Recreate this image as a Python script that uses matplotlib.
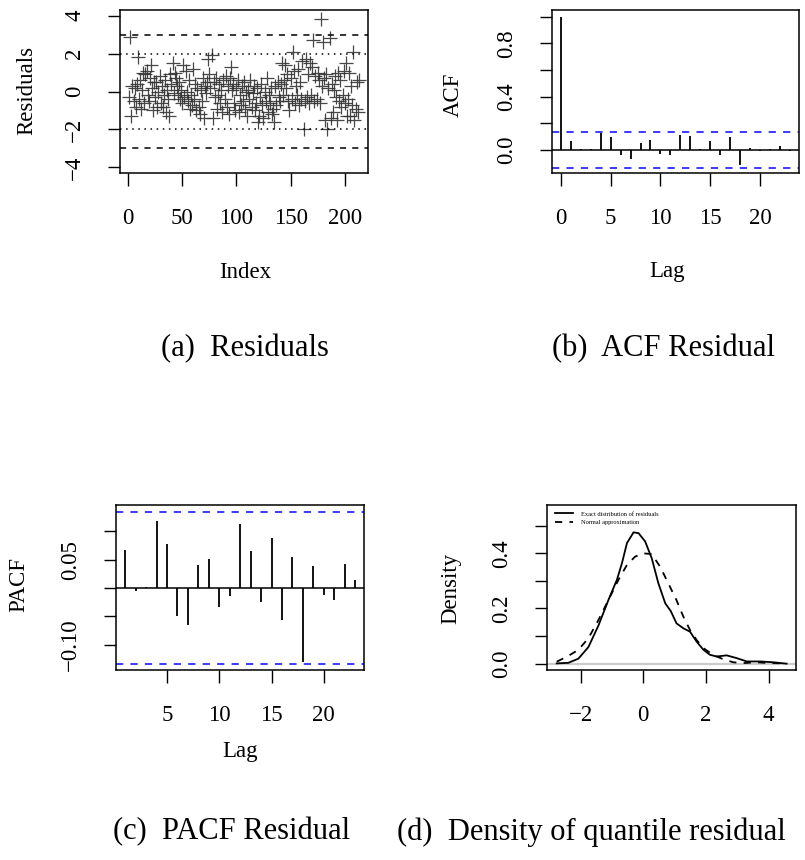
import numpy as np
import matplotlib
matplotlib.use("Agg")
import matplotlib.pyplot as plt

plt.rcParams['font.family'] = ['Liberation Serif', 'DejaVu Serif']
plt.rcParams['axes.unicode_minus'] = True

# quantile residuals, index 1..213
residuals = [
    -0.3, 2.9, -1.3, 0.3, -0.5, 0.2, -0.8, 0.4, 1.8, -0.4,
    0.6, -0.9, 0.1, 1.0, -0.6, 0.9, 1.1, -0.2, -0.5, 0.7,
    1.4, 0.2, -1.0, 0.5, -0.3, 0.5, -0.8, 0.0, 0.8, -0.6,
    0.3, -0.8, -0.2, 0.6, -1.1, 0.1, -0.4, -1.3, 0.9, 0.4,
    1.5, -0.1, 1.0, 0.7, 0.3, -0.2, 0.5, -0.4, 0.1, -0.6,
    1.4, -0.3, 1.1, 0.0, -0.5, 0.6, -0.9, -0.2, -0.7, 1.2,
    -0.4, 0.4, -1.0, 0.2, -0.8, -1.2, 0.1, -0.5, 0.7, -1.4,
    0.3, -0.1, 0.5, 1.7, 0.9, 0.2, 1.9, -1.4, 0.5, -0.3,
    0.7, -0.9, -0.2, 0.4, -0.6, 0.1, -1.1, 0.6, -0.4, 0.8,
    -0.8, 0.3, -1.2, 0.7, 1.3, 0.1, 0.4, -0.6, -1.0, 0.2,
    0.6, -1.1, -0.2, -0.7, 0.3, -0.5, 0.5, -0.9, 0.0, -1.3,
    0.1, -0.4, 0.6, -0.8, -0.1, 0.3, -1.0, -0.6, 0.2, -1.6,
    -1.3, -0.3, 0.4, -0.7, -1.4, 0.0, -0.5, 0.7, -1.1, -0.2,
    -0.6, 0.2, -1.2, -0.9, -1.6, 0.3, -0.7, 0.5, -0.3, -0.5,
    0.4, 1.5, -0.2, 0.6, 1.4, 0.2, 0.9, -0.5, -1.0, 0.7,
    -0.4, 2.1, 1.1, -0.6, 0.3, -0.2, 1.2, -0.7, 0.5, -0.4,
    1.6, -2.0, -0.5, 1.7, -0.3, 0.9, -0.6, 1.5, -0.2, 1.3,
    2.7, -0.5, 0.8, -0.4, 1.0, 0.6, -0.6, 3.8, 0.3, 2.6,
    0.7, -1.5, 0.9, -2.0, 0.2, 2.8, -1.4, 0.4, -1.1, 0.1,
    0.8, -0.3, -1.5, 1.0, -0.5, 0.6, -0.8, -0.2, 1.1, -0.6,
    1.5, -1.3, -0.4, 1.0, -1.3, 0.3, -0.7, 2.1, -1.5, -0.9,
    0.5, -1.1, 0.6,
]

acf_lags = list(range(0, 24))
acf_vals = [1.0, 0.07, 0.005, 0.005, 0.125, 0.10, -0.04, -0.07, 0.05, 0.075,
            -0.03, -0.04, 0.11, 0.105, 0.005, 0.07, -0.035, 0.10, -0.11, 0.015,
            -0.005, 0.005, 0.03, -0.01]

pacf_lags = list(range(1, 24))
pacf_vals = [0.067, -0.005, 0.001, 0.119, 0.078, -0.049, -0.065, 0.041, 0.051,
             -0.033, -0.014, 0.113, 0.065, -0.024, 0.089, -0.056, 0.055, -0.131,
             0.039, -0.012, -0.021, 0.042, 0.015]

conf_limit = 0.135

exact_x = [-2.76, -2.39, -2.07, -1.75, -1.43, -1.11, -0.84, -0.68, -0.52, -0.31,
           -0.15, 0.06, 0.27, 0.48, 0.70, 0.88, 1.06, 1.28, 1.49, 1.70, 1.92,
           2.13, 2.34, 2.66, 2.98, 3.30, 3.72, 4.15, 4.57]
exact_y = [0.001, 0.003, 0.018, 0.060, 0.138, 0.231, 0.304, 0.364, 0.437, 0.476,
           0.473, 0.443, 0.382, 0.292, 0.219, 0.19, 0.146, 0.128, 0.116, 0.080,
           0.050, 0.032, 0.026, 0.030, 0.020, 0.008, 0.008, 0.005, 0.0]

normal_x = [-2.76, -2.39, -2.07, -1.75, -1.43, -1.11, -0.79, -0.52, -0.26, 0.0,
            0.27, 0.54, 0.85, 1.06, 1.28, 1.49, 1.70, 1.92, 2.24, 2.55, 2.87,
            3.19, 3.61, 4.04, 4.57]
normal_y = [0.007, 0.028, 0.05, 0.092, 0.158, 0.231, 0.304, 0.358, 0.388, 0.40,
            0.397, 0.351, 0.279, 0.23, 0.170, 0.122, 0.086, 0.056, 0.031, 0.016,
            0.005, 0.002, 0.005, 0.002, 0.001]

W, H = 805, 860
fig = plt.figure(figsize=(W / 100, H / 100), dpi=100)

FS = 16.5
BLUE = '#2b2bff'


def box(l, t, r, b):
    return fig.add_axes([l / W, 1 - b / H, (r - l) / W, (b - t) / H])


def r_style(ax):
    ax.tick_params(direction='out', length=9, width=1, labelsize=FS, pad=16,
                   top=False, right=False)
    for s in ax.spines.values():
        s.set_linewidth(1.1)
    plt.setp(ax.get_yticklabels(), rotation=90, va='center')


def place_labels(ax, xl, yl, xpos, ypos, l, t, r, b):
    if xl:
        ax.set_xlabel(xl, fontsize=FS)
        ax.xaxis.set_label_coords((xpos[0] - l) / (r - l), (b - xpos[1]) / (b - t))
        ax.xaxis.label.set_va('center')
    if yl:
        ax.set_ylabel(yl, fontsize=FS)
        ax.yaxis.set_label_coords((ypos[0] - l) / (r - l), (b - ypos[1]) / (b - t))
        ax.yaxis.label.set_va('center')


# (a) residuals
A = (120, 10, 368, 173)
ax = box(*A)
idx = np.arange(1, len(residuals) + 1)
ax.plot(idx, residuals, '+', color='#333333', ms=10, mew=0.9, alpha=0.9)
for v, ls in [(3, (0, (4, 4))), (-3, (0, (4, 4))), (2, (0, (1, 3))), (-2, (0, (1, 3)))]:
    ax.axhline(v, color='black', lw=1.1, ls=ls)
ax.set_xlim(-7.5, 221.5)
ax.set_ylim(-4.3, 4.3)
ax.set_xticks([0, 50, 100, 150, 200])
ax.set_yticks([-4, -2, 0, 2, 4])
r_style(ax)
place_labels(ax, 'Index', 'Residuals', (245, 272), (27, 90), *A)

# (b) ACF
B = (551.7, 10, 799, 173.3)
ax = box(*B)
ax.vlines(acf_lags, 0, acf_vals, color='black', lw=1.3)
ax.axhline(0, color='black', lw=1.1)
ax.axhline(conf_limit, color=BLUE, lw=1.3, ls=(0, (4, 4)))
ax.axhline(-conf_limit, color=BLUE, lw=1.3, ls=(0, (4, 4)))
ax.set_xlim(-0.92, 23.92)
ax.set_ylim(-0.175, 1.05)
ax.set_xticks([0, 5, 10, 15, 20])
ax.set_yticks([0.0, 0.2, 0.4, 0.6, 0.8, 1.0])
ax.set_yticklabels(['0.0', '', '0.4', '', '0.8', ''])
r_style(ax)
place_labels(ax, 'Lag', 'ACF', (667, 272), (453, 95), *B)

# (c) PACF
C = (116, 505.3, 364.3, 670)
ax = box(*C)
ax.vlines(pacf_lags, 0, pacf_vals, color='black', lw=1.3)
ax.axhline(0, color='black', lw=1.1)
ax.axhline(0.134, color=BLUE, lw=1.3, ls=(0, (4, 4)))
ax.axhline(-0.134, color=BLUE, lw=1.3, ls=(0, (4, 4)))
ax.set_xlim(0.12, 23.88)
ax.set_ylim(-0.1447, 0.1460)
ax.set_xticks([5, 10, 15, 20])
ax.set_yticks([-0.10, -0.05, 0.0, 0.05, 0.10])
ax.set_yticklabels(['\u22120.10', '', '', '0.05', ''])
r_style(ax)
place_labels(ax, 'Lag', 'PACF', (240, 752), (19, 585), *C)

# (d) density
D = (547.3, 505.3, 796, 670)
ax = box(*D)
ax.axhline(0, color='#cccccc', lw=1.6)
ax.plot(exact_x, exact_y, color='black', lw=1.3, label='Exact distribution of residuals')
ax.plot(normal_x, normal_y, color='black', lw=1.3, ls=(0, (4, 4)), label='Normal approximation')
ax.set_xlim(-3.06, 4.87)
ax.set_ylim(-0.023, 0.574)
ax.set_xticks([-2, 0, 2, 4])
ax.set_yticks([0.0, 0.1, 0.2, 0.3, 0.4, 0.5])
ax.set_yticklabels(['0.0', '', '0.2', '', '0.4', ''])
r_style(ax)
place_labels(ax, None, 'Density', None, (451, 588), *D)
ax.legend(loc='upper left', bbox_to_anchor=(0.031, 0.965), frameon=False, fontsize=4.6,
          handlelength=2.8, handletextpad=1.2, labelspacing=0.45, borderpad=0, borderaxespad=0)

# subfigure captions
CAP = 22
fig.text(245, H - 349, '(a)  Residuals', fontsize=CAP, ha='center', va='center',
         transform=None)
fig.text(664, H - 349, '(b)  ACF Residual', fontsize=CAP, ha='center', va='center',
         transform=None)
fig.text(232, H - 832, '(c)  PACF Residual', fontsize=CAP, ha='center', va='center',
         transform=None)
fig.text(397, H - 832, '(d)  Density of quantile residual', fontsize=CAP, ha='left',
         va='center', transform=None)

fig.savefig('out.png', dpi=100)
